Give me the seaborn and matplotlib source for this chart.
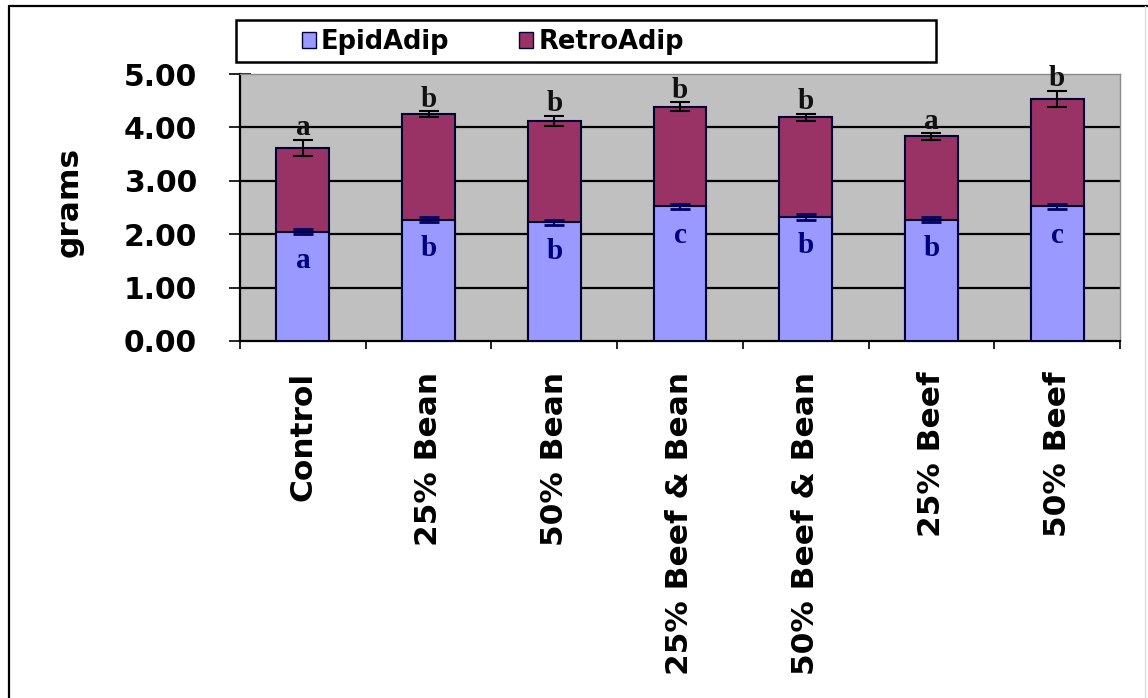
import numpy as np
import pandas as pd
import matplotlib
matplotlib.use("Agg")
import matplotlib.pyplot as plt
import seaborn as sns
from matplotlib.patches import Patch, Rectangle
from matplotlib.lines import Line2D

categories = ["Control", "25% Bean", "50% Bean", "25% Beef & Bean",
              "50% Beef & Bean", "25% Beef", "50% Beef"]
epid = [2.05, 2.27, 2.22, 2.52, 2.32, 2.27, 2.52]
retro = [1.57, 1.98, 1.90, 1.87, 1.87, 1.56, 2.02]
epid_err = [0.05, 0.05, 0.05, 0.05, 0.05, 0.05, 0.05]
retro_err = [0.15, 0.06, 0.10, 0.08, 0.07, 0.06, 0.15]
epid_letters = ["a", "b", "b", "c", "b", "b", "c"]
total_letters = ["a", "b", "b", "b", "b", "a", "b"]
y_ticks = [0, 1, 2, 3, 4, 5]

EPID_COLOR = "#9999FF"
RETRO_COLOR = "#993366"
EDGE = "#000033"

sns.set_theme(style="white")
plt.rcParams["font.family"] = ["DejaVu Sans"]
plt.rcParams["text.color"] = "black"
plt.rcParams["axes.labelcolor"] = "black"
plt.rcParams["xtick.color"] = "black"
plt.rcParams["ytick.color"] = "black"

df = pd.DataFrame({"category": categories, "epid": epid, "retro": retro})
df["total"] = df["epid"] + df["retro"]

fig = plt.figure(figsize=(11.48, 6.98), dpi=100)
W, H = 1148, 698
ax = fig.add_axes([240 / W, 1 - 341 / H, 880 / W, 267 / H])
ax.set_facecolor("#C0C0C0")

sns.barplot(data=df, x="category", y="total", color=RETRO_COLOR, saturation=1,
            width=0.42, edgecolor=EDGE, linewidth=1.5, ax=ax, zorder=3)
sns.barplot(data=df, x="category", y="epid", color=EPID_COLOR, saturation=1,
            width=0.42, edgecolor=EDGE, linewidth=1.5, ax=ax, zorder=4)

xpos = np.arange(len(categories))
ax.errorbar(xpos, df["total"], yerr=retro_err, fmt="none", ecolor="black",
            elinewidth=1.5, capsize=7, capthick=1.5, zorder=6)
ax.errorbar(xpos, df["epid"], yerr=epid_err, fmt="none", ecolor="#000066",
            elinewidth=1.5, capsize=7, capthick=2, zorder=6)

for i in range(len(categories)):
    ax.text(xpos[i], df["total"][i] + retro_err[i] + 0.08, total_letters[i],
            ha="center", va="baseline", fontsize=21, fontweight="bold",
            family="Liberation Serif", color="#111111", zorder=7, clip_on=False)
    ax.text(xpos[i], df["epid"][i] - 0.68, epid_letters[i],
            ha="center", va="baseline", fontsize=21, fontweight="bold",
            family="Liberation Serif", color="#000080", zorder=7)

ax.set_ylim(0, 5)
ax.set_xlim(-0.5, len(categories) - 0.5)
ax.set_yticks(y_ticks)
ax.set_yticklabels([f"{v:.2f}" for v in y_ticks], fontsize=21.5, fontweight="bold",
                   color="black")
for v in y_ticks[1:-1]:
    ax.axhline(v, color="black", lw=1.6, zorder=1)

ax.set_xticks(xpos)
ax.set_xticklabels(categories, rotation=90, fontsize=22.5, fontweight="bold",
                   va="top", ha="center", color="black")
ax.set_xticks(np.arange(len(categories) + 1) - 0.5, minor=True)
ax.tick_params(axis="x", which="major", length=0, pad=22, colors="black")
ax.tick_params(axis="x", which="minor", length=6, width=1.2, direction="out",
               bottom=True, color="black")
ax.tick_params(axis="y", which="major", length=16, width=1.2, direction="inout",
               pad=23, left=True, color="black")

ax.set_xlabel("")
ax.set_ylabel("grams", fontsize=22.5, fontweight="bold", color="black")
ax.yaxis.set_label_coords((84 - 240) / 880, 0.52)

for s in ["left", "bottom"]:
    ax.spines[s].set_color("black")
    ax.spines[s].set_linewidth(1.6)
for s in ["top", "right"]:
    ax.spines[s].set_color("#8a8a8a")
    ax.spines[s].set_linewidth(1.0)

# legend
handles = [Patch(facecolor=EPID_COLOR, edgecolor=EDGE, label="EpidAdip"),
           Patch(facecolor=RETRO_COLOR, edgecolor=EDGE, label="RetroAdip")]
leg = fig.legend(handles=handles, ncol=2, frameon=False, loc="center left",
                 bbox_to_anchor=(289 / W, 1 - 42 / H),
                 prop={"size": 18.5, "weight": "bold"},
                 handlelength=0.55, handleheight=0.55, handletextpad=0.2,
                 columnspacing=2.7, borderpad=0)
for t in leg.get_texts():
    t.set_color("black")
fig.add_artist(Rectangle((236 / W, 1 - 62 / H), 700 / W, 42 / H,
                         transform=fig.transFigure, fill=False,
                         edgecolor="black", lw=1.8))

# outer border
fig.add_artist(Line2D([9 / W, 9 / W], [0, 1 - 6 / H], transform=fig.transFigure,
                      color="black", lw=1.6))
fig.add_artist(Line2D([9 / W, 1], [1 - 6 / H, 1 - 6 / H], transform=fig.transFigure,
                      color="black", lw=1.6))
fig.add_artist(Line2D([1145 / W, 1145 / W], [0, 1 - 6 / H], transform=fig.transFigure,
                      color="#dddddd", lw=1.0))

fig.savefig("out.png", dpi=100)
